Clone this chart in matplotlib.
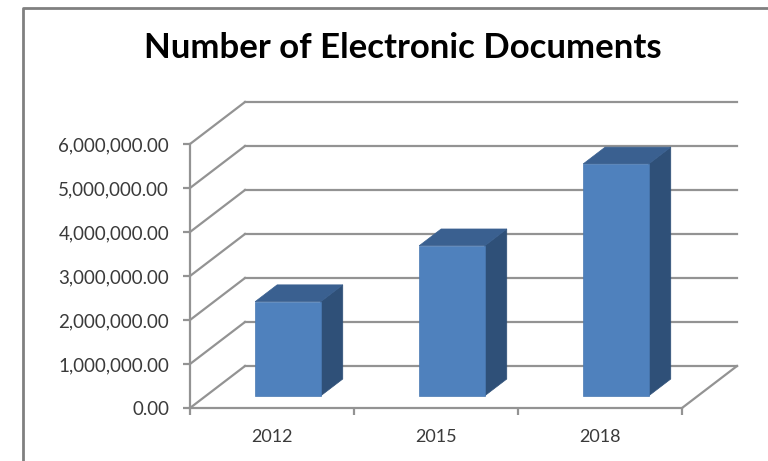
import matplotlib.pyplot as plt
from matplotlib.patches import Polygon
from matplotlib.lines import Line2D

years = ['2012', '2015', '2018']
documents = [2140000, 3410000, 5270000]
y_ticks = [0, 1000000, 2000000, 3000000, 4000000, 5000000, 6000000]

plt.rcParams['font.family'] = ['Lato', 'DejaVu Sans']

fig = plt.figure(figsize=(7.68, 4.61), dpi=100)
# front plane of the 3d box
ax = fig.add_axes([190 / 768, 53 / 461, 492 / 768, 264 / 461])
ax.set_xlim(0, len(years))
ax.set_ylim(0, y_ticks[-1])

# depth of the box: back wall is 55 px right and 42 px up from the front
px_per_x = 492 / len(years)
px_per_y = 264 / y_ticks[-1]
DX = 55 / px_per_x
DY = 42 / px_per_y

grid_c = '#939393'

def shift(pts, d):
    return [(x + d * DX, y + d * DY) for x, y in pts]

# back wall + left wall gridlines
for v in y_ticks:
    ax.plot([DX, len(years) + DX], [v + DY, v + DY], color=grid_c, lw=1.6, clip_on=False, zorder=1)
    ax.plot([0, DX], [v, v + DY], color=grid_c, lw=1.6, clip_on=False, zorder=1)
# floor right edge
ax.plot([len(years), len(years) + DX], [0, DY], color=grid_c, lw=1.6, clip_on=False, zorder=1)

# bars
w = 0.4
d1, d2 = 0.29, 0.69
for i, v in enumerate(documents):
    c = i + 0.5
    x0, x1 = c - w / 2, c + w / 2
    front = shift([(x0, 0), (x1, 0), (x1, v), (x0, v)], d1)
    top = shift([(x0, v), (x1, v)], d1) + shift([(x1, v), (x0, v)], d2)
    side = shift([(x1, 0), (x1, v)], d1)[::-1] + shift([(x1, 0), (x1, v)], d2)
    side = shift([(x1, 0)], d1) + shift([(x1, 0), (x1, v)], d2) + shift([(x1, v)], d1)
    ax.add_patch(Polygon(side, closed=True, facecolor='#2f5078', edgecolor='#2f5078', lw=0.5, clip_on=False, zorder=3))
    ax.add_patch(Polygon(top, closed=True, facecolor='#3a6090', edgecolor='#3a6090', lw=0.5, clip_on=False, zorder=3))
    ax.add_patch(Polygon(front, closed=True, facecolor='#4f81bd', edgecolor='#4a7ab3', lw=0.5, clip_on=False, zorder=4))

# axes
for s in ['top', 'right']:
    ax.spines[s].set_visible(False)
for s in ['left', 'bottom']:
    ax.spines[s].set_color(grid_c)
    ax.spines[s].set_linewidth(1.6)
    ax.spines[s].set_zorder(2)

ax.set_yticks(y_ticks)
ax.set_yticklabels(['{:,.2f}'.format(v) for v in y_ticks])
ax.tick_params(axis='y', direction='out', length=5, width=1.6, color=grid_c,
               labelcolor='#3a3a3a', labelsize=13.5, pad=10)

ax.set_xticks([i + 0.5 for i in range(len(years))])
ax.set_xticklabels(years)
ax.set_xticks(range(len(years) + 1), minor=True)
ax.tick_params(axis='x', which='major', length=0, labelcolor='#3a3a3a', labelsize=13, pad=15)
ax.tick_params(axis='x', which='minor', direction='out', length=5, width=1.6, color=grid_c)

fig.text(403 / 768, 1 - 48 / 461, 'Number of Electronic Documents', ha='center', va='center',
         fontsize=25, fontweight='bold', color='black')

# chart area frame (left and top edge)
fig.add_artist(Line2D([23 / 768, 23 / 768, 1], [0, 1 - 8 / 461, 1 - 8 / 461],
                      transform=fig.transFigure, color='#808080', lw=2))

fig.savefig('out.png', dpi=100)
